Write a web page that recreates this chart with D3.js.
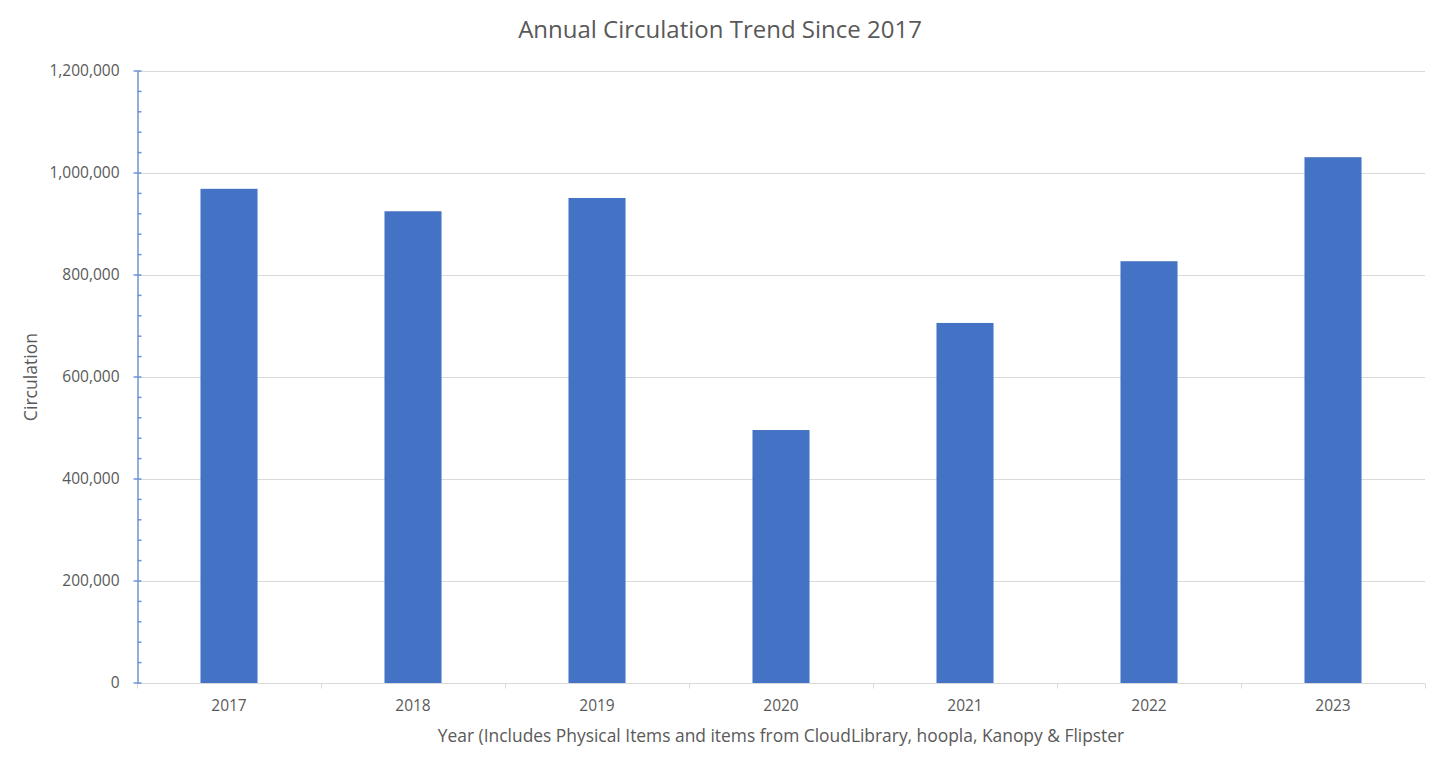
<!DOCTYPE html>
<html><head><meta charset="utf-8">
<script src="https://cdn.jsdelivr.net/npm/d3@7"></script>
<style>body{margin:0;background:#fff;}svg{display:block;}text{font-family:"Open Sans","Liberation Sans",sans-serif;}</style>
</head><body>
<svg id="c" width="1432" height="758"></svg>
<script>
const categories = ["2017","2018","2019","2020","2021","2022","2023"];
const values = [969000, 925000, 951000, 496000, 706000, 827000, 1031000];
const yTicks = [0,200000,400000,600000,800000,1000000,1200000];
const title = "Annual Circulation Trend Since 2017";
const xTitle = "Year (Includes Physical Items and items from CloudLibrary, hoopla, Kanopy & Flipster";
const yTitle = "Circulation";

const svg = d3.select("#c");
const L = 137, R = 1425, T = 71, B = 683;
const x = d3.scaleBand().domain(categories).range([L, R]).paddingInner(0.69).paddingOuter(0.345);
const y = d3.scaleLinear().domain([0, 1200000]).range([B, T]);
const fmt = d3.format(",");

// gridlines
svg.append("g").selectAll("line").data(yTicks.slice(1)).join("line")
  .attr("x1", L).attr("x2", R).attr("y1", d=>y(d)+0.5).attr("y2", d=>y(d)+0.5)
  .attr("stroke", "#d9d9d9").attr("stroke-width", 1);

// bars
svg.append("g").selectAll("rect").data(values).join("rect")
  .attr("x", (d,i)=>x(categories[i])).attr("width", x.bandwidth())
  .attr("y", d=>y(d)).attr("height", d=>B - y(d))
  .attr("fill", "#4472c4");

// x axis
const xAxisG = svg.append("g").attr("transform", `translate(0,${B+0.5})`);
xAxisG.append("line").attr("x1", L).attr("x2", R).attr("stroke", "#d9d9d9").attr("stroke-width", 1);
const step = (R - L) / categories.length;
xAxisG.selectAll("line.tk").data(d3.range(categories.length + 1)).join("line").attr("class","tk")
  .attr("x1", i=>Math.round(L + i*step)+0.5).attr("x2", i=>Math.round(L + i*step)+0.5)
  .attr("y1", 0).attr("y2", 5).attr("stroke", "#d9d9d9");
xAxisG.selectAll("text").data(categories).join("text")
  .attr("x", d=>x(d)+x.bandwidth()/2).attr("y", 27)
  .attr("text-anchor","middle").attr("fill","#595959").style("font-size","15.5px").text(d=>d);

// y axis
const yAxis = d3.axisLeft(y).tickValues(yTicks).tickFormat(fmt).tickSize(0).tickPadding(18);
const yg = svg.append("g").attr("transform", `translate(${L+0.5},0)`).call(yAxis);
yg.select(".domain").attr("stroke", "#6f93d6").attr("stroke-width", 1.5);
yg.selectAll("text").attr("fill","#595959").style("font-size","15.5px");
// major ticks (crossing)
yg.selectAll("line.maj").data(yTicks).join("line").attr("class","maj")
  .attr("x1", -4).attr("x2", 4).attr("y1", d=>y(d)).attr("y2", d=>y(d)).attr("stroke","#6f93d6").attr("stroke-width",1.5);
// minor ticks
const minor = d3.range(0, 1200001, 40000).filter(v=>v % 200000 !== 0);
yg.selectAll("line.min").data(minor).join("line").attr("class","min")
  .attr("x1", 0).attr("x2", 4).attr("y1", d=>y(d)).attr("y2", d=>y(d)).attr("stroke","#6f93d6").attr("stroke-width",1.5);

// titles
svg.append("text").attr("x", 720).attr("y", 38).attr("text-anchor","middle")
  .attr("fill","#595959").style("font-size","24px").text(title);
svg.append("text").attr("x", 781).attr("y", 742).attr("text-anchor","middle")
  .attr("fill","#595959").style("font-size","17.4px").text(xTitle);
svg.append("text").attr("transform", `translate(37,${(T+B)/2}) rotate(-90)`).attr("text-anchor","middle")
  .attr("fill","#595959").style("font-size","17.6px").text(yTitle);
</script>
</body></html>
